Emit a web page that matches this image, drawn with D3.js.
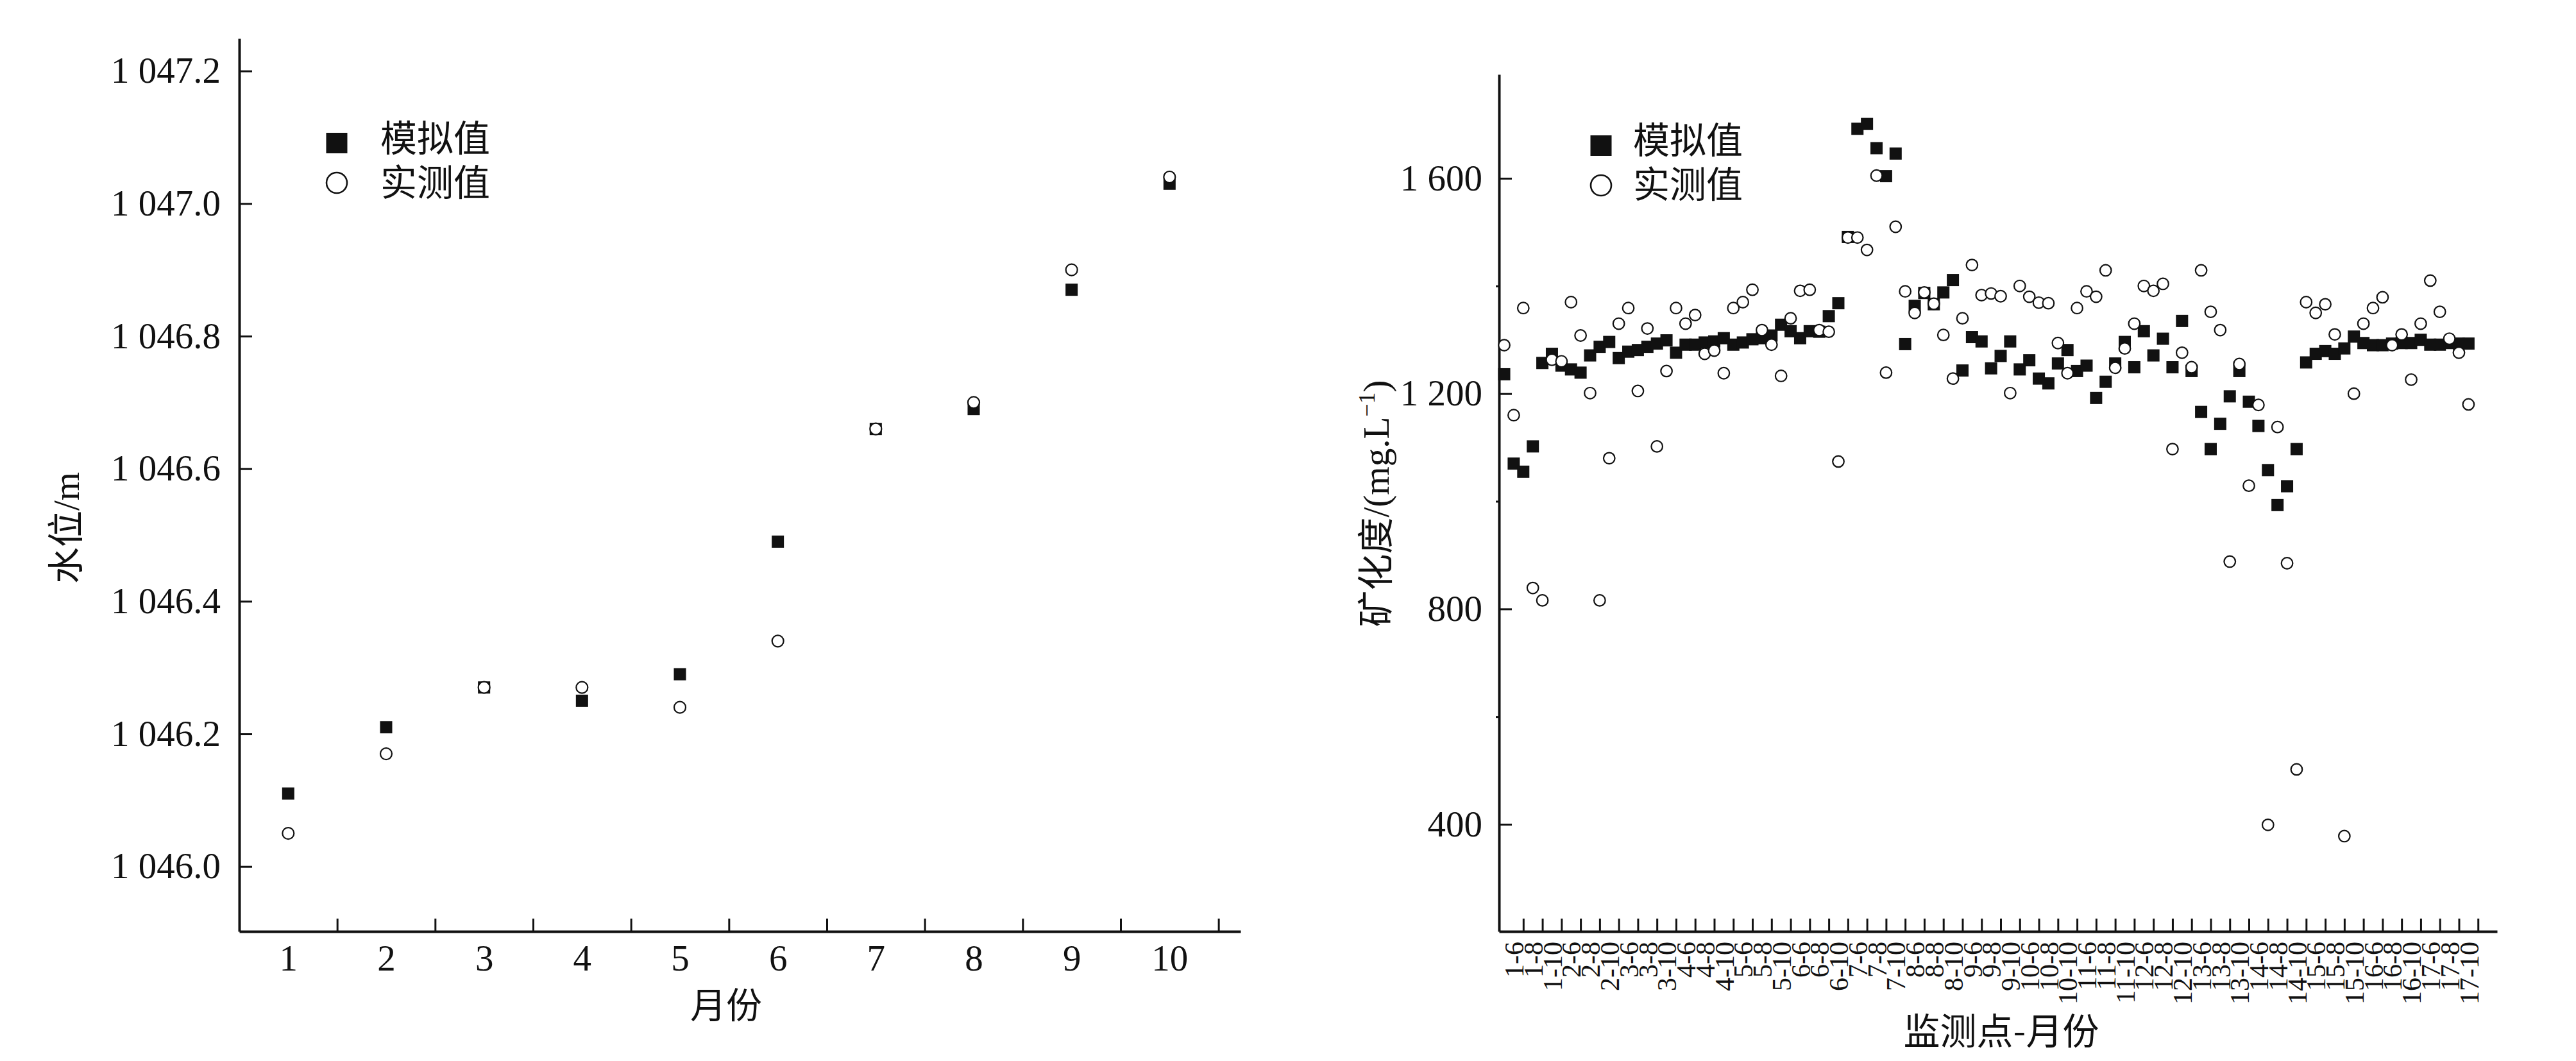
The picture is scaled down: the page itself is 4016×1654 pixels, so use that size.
<!DOCTYPE html>
<html>
<head>
<meta charset="utf-8">
<script src="https://cdn.jsdelivr.net/npm/d3@7"></script>
<style>
  body { margin: 0; background: #fff; }
  svg { display: block; }
</style>
</head>
<body>
<svg id="chart" width="4016" height="1654"></svg>
<script>
// ---------------- data: left panel (water level) ----------------
const months = [1, 2, 3, 4, 5, 6, 7, 8, 9, 10];
const waterSim = [1046.11, 1046.21, 1046.27, 1046.25, 1046.29, 1046.49, 1046.66, 1046.69, 1046.87, 1047.03];
const waterObs = [1046.05, 1046.17, 1046.27, 1046.27, 1046.24, 1046.34, 1046.66, 1046.70, 1046.90, 1047.04];
const waterTicks = [1046.0, 1046.2, 1046.4, 1046.6, 1046.8, 1047.0, 1047.2];
const monthBoundaries = [1.5, 2.5, 3.5, 4.5, 5.5, 6.5, 7.5, 8.5, 9.5, 10.5];

// ---------------- data: right panel (TDS) ----------------
const sites = [1, 2, 3, 4, 5, 6, 7, 8, 9, 10, 11, 12, 13, 14, 15, 16, 17];
const siteMonths = [5, 6, 7, 8, 9, 10];
const labelMonths = [6, 8, 10];
const tdsSim = [
  1236, 1070, 1055, 1102, 1257, 1274,
  1252, 1245, 1239, 1271, 1287, 1296,
  1266, 1278, 1281, 1287, 1293, 1299,
  1276, 1291, 1291, 1295, 1297, 1303,
  1291, 1295, 1301, 1303, 1308, 1328,
  1316, 1303, 1316, 1315, 1344, 1368,
  1491, 1692, 1701, 1656, 1604, 1646,
  1292, 1363, 1387, 1366, 1388, 1411,
  1243, 1305, 1297, 1247, 1270, 1297,
  1245, 1262, 1228, 1219, 1256, 1281,
  1242, 1252, 1192, 1222, 1256, 1296,
  1249, 1316, 1271, 1302, 1249, 1335,
  1242, 1166, 1097, 1144, 1195, 1242,
  1185, 1140, 1058, 993, 1028, 1097,
  1258, 1274, 1279, 1274, 1284, 1306,
  1294, 1290, 1290, 1293, 1294, 1294,
  1300, 1291, 1291, 1294, 1293, 1293
];
const tdsObs = [
  1290, 1160, 1359, 839, 816, 1263,
  1260, 1370, 1308, 1201, 816, 1080,
  1330, 1359, 1205, 1321, 1102, 1242,
  1359, 1330, 1346, 1274, 1280, 1238,
  1359, 1370, 1393, 1318, 1291, 1233,
  1340, 1391, 1393, 1318, 1315, 1074,
  1490, 1490, 1467, 1605, 1239, 1510,
  1390, 1350, 1388, 1367, 1309, 1228,
  1340, 1439, 1383, 1386, 1381, 1201,
  1400, 1380, 1369, 1368, 1294, 1238,
  1359, 1390, 1380, 1429, 1248, 1284,
  1330, 1400, 1391, 1404, 1097, 1276,
  1249, 1429, 1352, 1318, 888, 1255,
  1029, 1179, 399, 1138, 885, 502,
  1370, 1350, 1366, 1310, 378, 1200,
  1330, 1359, 1379, 1290, 1310, 1226,
  1330, 1410, 1352, 1302, 1276, 1180
];
const tdsTicks = [400, 800, 1200, 1600];
const tdsMinorTicks = [600, 1000, 1400];

// ---------------- styling ----------------
const INK = '#111';
const SERIF = "'Liberation Serif','Times New Roman',serif";
const CJK = "'Noto Sans CJK SC','Noto Sans CJK JP',sans-serif";
const svg = d3.select('#chart');

// "1 047.2" style: space as thousands separator
function fmtWater(v) {
  const s = v.toFixed(1);
  return s[0] + ' ' + s.slice(1);
}
function fmtTds(v) {
  const s = String(Math.round(v));
  return v >= 1000 ? s[0] + ' ' + s.slice(1) : s;
}

function styleAxis(g, fontSize) {
  g.attr('color', INK);
  g.select('.domain').attr('stroke-width', 4);
  g.selectAll('.tick line').attr('stroke-width', 3);
  g.selectAll('.tick text').attr('font-family', SERIF).attr('font-size', fontSize);
}

function drawMarkers(g, data, xs, ys, sq, r) {
  g.selectAll('rect.sim').data(data).join('rect')
    .attr('class', 'sim')
    .attr('x', d => xs(d.x) - sq / 2).attr('y', d => ys(d.sim) - sq / 2)
    .attr('width', sq).attr('height', sq).attr('fill', INK);
  g.selectAll('circle.obs').data(data).join('circle')
    .attr('class', 'obs')
    .attr('cx', d => xs(d.x)).attr('cy', d => ys(d.obs)).attr('r', r)
    .attr('fill', '#fff').attr('stroke', INK).attr('stroke-width', 2.2);
}

function drawLegend(g, x0, ySq, yCir, tx, ySimBase, yObsBase) {
  g.append('rect').attr('x', x0 - 16.5).attr('y', ySq - 16).attr('width', 33).attr('height', 32).attr('fill', INK);
  g.append('circle').attr('cx', x0).attr('cy', yCir).attr('r', 16).attr('fill', '#fff')
    .attr('stroke', INK).attr('stroke-width', 2.6);
  g.append('text').attr('x', tx).attr('y', ySimBase).attr('font-family', CJK).attr('font-size', 57)
    .attr('fill', INK).text('模拟值');
  g.append('text').attr('x', tx).attr('y', yObsBase).attr('font-family', CJK).attr('font-size', 57)
    .attr('fill', INK).text('实测值');
}

// ================= LEFT PANEL =================
const xL = d3.scaleLinear().domain([0.5, 10.725]).range([373, 1934]);
const yL = d3.scaleLinear().domain([1045.902, 1047.249]).range([1452, 60]);
const left = svg.append('g');

left.append('g').attr('transform', 'translate(373,0)')
  .call(d3.axisLeft(yL).tickValues(waterTicks).tickSize(-20).tickSizeOuter(0).tickPadding(29)
    .tickFormat(fmtWater))
  .call(g => styleAxis(g, 57));

left.append('g').attr('transform', 'translate(0,1452)')
  .call(d3.axisBottom(xL).tickValues(monthBoundaries).tickSize(-20).tickSizeOuter(0).tickFormat(''))
  .call(g => styleAxis(g, 57));

left.append('g').attr('transform', 'translate(0,1452)')
  .call(d3.axisBottom(xL).tickValues(months).tickSize(0).tickPadding(21).tickFormat(d3.format('d')))
  .call(g => { styleAxis(g, 57); g.select('.domain').remove(); });

drawMarkers(left, months.map((m, i) => ({ x: m, sim: waterSim[i], obs: waterObs[i] })), xL, yL, 19, 9);
drawLegend(left, 525, 223, 285, 593, 236, 305);

left.append('text').attr('x', 1132).attr('y', 1587).attr('text-anchor', 'middle')
  .attr('font-family', CJK).attr('font-size', 56).attr('fill', INK).text('月份');

const yLab = left.append('text').attr('transform', 'translate(123,823) rotate(-90)')
  .attr('text-anchor', 'middle').attr('font-size', 57).attr('fill', INK);
yLab.append('tspan').attr('font-family', CJK).text('水位');
yLab.append('tspan').attr('font-family', SERIF).text('/m');

// ================= RIGHT PANEL =================
const tdsData = [];
sites.forEach(s => siteMonths.forEach(m => tdsData.push({ site: s, month: m })));
tdsData.forEach((d, i) => { d.x = i; d.sim = tdsSim[i]; d.obs = tdsObs[i]; });

const xR = d3.scaleLinear().domain([-0.54, 104]).range([2337, 3893]);
const yR = d3.scaleLinear().domain([201, 1793]).range([1452, 116]);
const right = svg.append('g');

right.append('g').attr('transform', 'translate(2337,0)')
  .call(d3.axisLeft(yR).tickValues(tdsTicks).tickSize(-20).tickSizeOuter(0).tickPadding(26)
    .tickFormat(fmtTds))
  .call(g => styleAxis(g, 57));

right.append('g').attr('transform', 'translate(2337,0)')
  .call(d3.axisLeft(yR).tickValues(tdsMinorTicks).tickSize(5).tickSizeOuter(0).tickFormat(''))
  .call(g => { styleAxis(g, 57); g.select('.domain').remove(); });

const boundaryIdx = d3.range(2, 103, 2);
right.append('g').attr('transform', 'translate(0,1452)')
  .call(d3.axisBottom(xR).tickValues(boundaryIdx).tickSize(-20).tickSizeOuter(0).tickFormat(''))
  .call(g => styleAxis(g, 42));

const labelData = tdsData.filter(d => labelMonths.includes(d.month));
const labelText = new Map(labelData.map(d => [d.x, d.site + '-' + d.month]));
right.append('g').attr('transform', 'translate(0,1452)')
  .call(d3.axisBottom(xR).tickValues(labelData.map(d => d.x)).tickSize(0).tickFormat(i => labelText.get(i)))
  .call(g => {
    styleAxis(g, 42);
    g.select('.domain').remove();
    g.selectAll('.tick text')
      .attr('transform', 'rotate(-90)')
      .attr('text-anchor', 'end')
      .attr('x', -16).attr('y', 0).attr('dy', '0.35em');
  });

drawMarkers(right, tdsData, xR, yR, 19, 8.8);
drawLegend(right, 2496, 227, 289, 2546, 239, 308);

right.append('text').attr('x', 3120).attr('y', 1628).attr('text-anchor', 'middle')
  .attr('font-family', CJK).attr('font-size', 57).attr('fill', INK).text('监测点-月份');

const yLabR = right.append('text').attr('transform', 'translate(2165,785) rotate(-90)')
  .attr('text-anchor', 'middle').attr('font-size', 57).attr('fill', INK);
yLabR.append('tspan').attr('font-family', CJK).text('矿化度');
yLabR.append('tspan').attr('font-family', SERIF).text('/(mg.L');
yLabR.append('tspan').attr('font-family', SERIF).attr('font-size', 36).attr('dy', -22).text('−1');
yLabR.append('tspan').attr('font-family', SERIF).attr('dy', 22).text(')');
</script>
</body>
</html>
